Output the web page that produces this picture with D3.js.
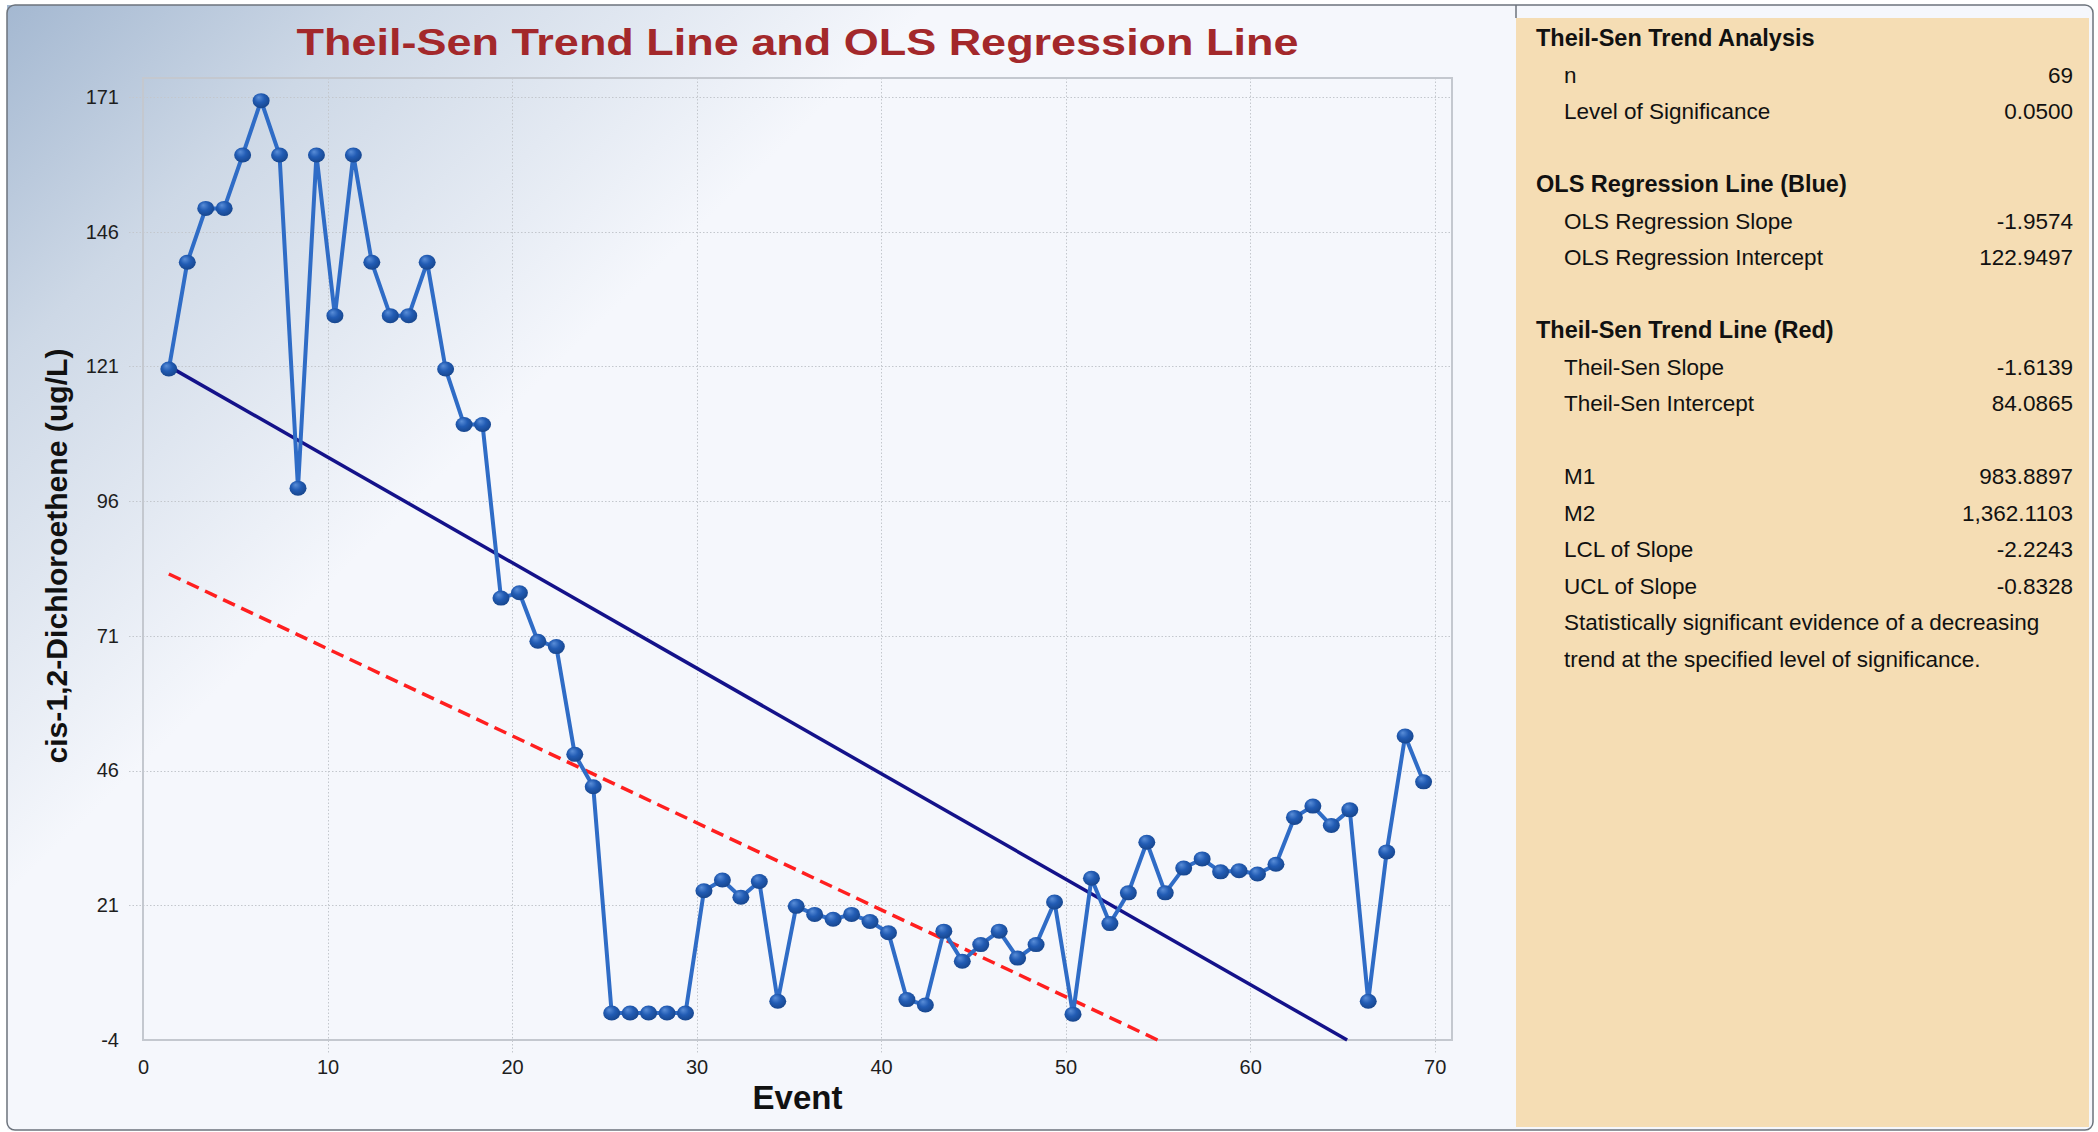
<!DOCTYPE html>
<html>
<head>
<meta charset="utf-8">
<script src="https://cdn.jsdelivr.net/npm/d3@7"></script>
<style>
	html, body { margin: 0; padding: 0; background: #ffffff; }
	svg { display: block; }
	text { font-family: "Liberation Sans", Arial, sans-serif; }
</style>
</head>
<body>
<div id="root"></div>
<script>
const W = 2098,
	H = 1132

// event number of each sample
const events = d3.range(1, 70)

// cis-1,2-Dichloroethene (ug/L) per event
const values = [
	120.5, 140.3, 150.3, 150.3, 160.2, 170.3, 160.2, 98.4, 160.2, 130.4,
	160.2, 140.3, 130.4, 130.4, 140.3, 120.5, 110.2, 110.2, 78, 79,
	70, 69, 49, 43, 1, 1, 1, 1, 1, 23.7,
	25.7, 22.5, 25.4, 3.2, 20.8, 19.3, 18.4, 19.3, 18, 15.9,
	3.5, 2.5, 16.2, 10.6, 13.7, 16.2, 11.2, 13.7, 21.6, 0.8,
	26, 17.6, 23.3, 32.7, 23.3, 27.9, 29.6, 27.2, 27.4, 26.8,
	28.6, 37.3, 39.4, 35.8, 38.7, 3.2, 30.9, 52.4, 43.9
]

const yTicks = [-4, 21, 46, 71, 96, 121, 146, 171]
const xTicks = [0, 10, 20, 30, 40, 50, 60, 70]

const olsLine = { slope: -1.9574, intercept: 122.9497 }
const theilLine = { slope: -1.6139, intercept: 84.0865 }

// right hand summary panel
const summaryRows = [
	{ type: 'head', label: 'Theil-Sen Trend Analysis' },
	{ label: 'n', value: '69' },
	{ label: 'Level of Significance', value: '0.0500' },
	{ type: 'gap' },
	{ type: 'head', label: 'OLS Regression Line (Blue)' },
	{ label: 'OLS Regression Slope', value: '-1.9574' },
	{ label: 'OLS Regression Intercept', value: '122.9497' },
	{ type: 'gap' },
	{ type: 'head', label: 'Theil-Sen Trend Line (Red)' },
	{ label: 'Theil-Sen Slope', value: '-1.6139' },
	{ label: 'Theil-Sen Intercept', value: '84.0865' },
	{ type: 'gap' },
	{ label: 'M1', value: '983.8897' },
	{ label: 'M2', value: '1,362.1103' },
	{ label: 'LCL of Slope', value: '-2.2243' },
	{ label: 'UCL of Slope', value: '-0.8328' },
	{ label: 'Statistically significant evidence of a decreasing' },
	{ label: 'trend at the specified level of significance.' }
]

const plot = { left: 143, right: 1452, top: 78, bottom: 1040 }
// markers sit a little right of the integer event position
const eventOffset = 0.4

const svg = d3.select('#root').append('svg')
	.attr('width', W)
	.attr('height', H)

const defs = svg.append('defs')

const bg = defs.append('linearGradient')
	.attr('id', 'bgGrad')
	.attr('gradientUnits', 'userSpaceOnUse')
	.attr('x1', 7).attr('y1', 5)
	.attr('x2', 600).attr('y2', 620)
bg.append('stop').attr('offset', 0).attr('stop-color', '#a4b8d1')
bg.append('stop').attr('offset', 0.3).attr('stop-color', '#cdd8e6')
bg.append('stop').attr('offset', 0.75).attr('stop-color', '#f5f7fc')

const dot = defs.append('radialGradient')
	.attr('id', 'dotGrad')
	.attr('cx', '45%').attr('cy', '40%')
	.attr('fx', '35%').attr('fy', '28%')
	.attr('r', '60%')
dot.append('stop').attr('offset', 0).attr('stop-color', '#5a8ed8')
dot.append('stop').attr('offset', 0.5).attr('stop-color', '#225cb4')
dot.append('stop').attr('offset', 1).attr('stop-color', '#17468e')

// window background + frame
svg.append('rect')
	.attr('x', 7).attr('y', 5)
	.attr('width', 2086).attr('height', 1125)
	.attr('rx', 8)
	.attr('fill', '#f5f7fc')

svg.append('rect')
	.attr('x', 7).attr('y', 5)
	.attr('width', 1509).attr('height', 1125)
	.attr('fill', 'url(#bgGrad)')

svg.append('rect')
	.attr('x', 1516).attr('y', 18)
	.attr('width', 573).attr('height', 1109)
	.attr('fill', '#f5ddb4')

svg.append('line')
	.attr('x1', 1516).attr('x2', 1516)
	.attr('y1', 5).attr('y2', 18)
	.attr('stroke', '#6c737c')
	.attr('stroke-width', 1.5)

svg.append('rect')
	.attr('x', 7).attr('y', 5)
	.attr('width', 2086).attr('height', 1125)
	.attr('rx', 8)
	.attr('fill', 'none')
	.attr('stroke', '#6c737c')
	.attr('stroke-width', 1.5)

// scales
const xScale = d3.scaleLinear()
	.domain([0, 70.94])
	.range([plot.left, plot.right])

const yScale = d3.scaleLinear()
	.domain([-4, 174.5])
	.range([plot.bottom, plot.top])

// title
svg.append('text')
	.attr('x', (plot.left + plot.right) / 2)
	.attr('y', 55)
	.attr('text-anchor', 'middle')
	.attr('font-size', 37)
	.attr('font-weight', 'bold')
	.attr('fill', '#a3282b')
	.attr('textLength', 1002)
	.attr('lengthAdjust', 'spacingAndGlyphs')
	.text('Theil-Sen Trend Line and OLS Regression Line')

// grid
const grid = svg.append('g')
	.attr('stroke', '#c3c7cd')
	.attr('stroke-width', 1)
	.attr('stroke-dasharray', '1.5,2')

grid.selectAll('.hgrid')
	.data(yTicks.filter(d => d > -4))
	.enter()
	.append('line')
	.attr('x1', plot.left - 14)
	.attr('x2', plot.right)
	.attr('y1', d => Math.round(yScale(d)) + 0.5)
	.attr('y2', d => Math.round(yScale(d)) + 0.5)

grid.selectAll('.vgrid')
	.data(xTicks.filter(d => d > 0))
	.enter()
	.append('line')
	.attr('x1', d => Math.round(xScale(d)) + 0.5)
	.attr('x2', d => Math.round(xScale(d)) + 0.5)
	.attr('y1', plot.top)
	.attr('y2', plot.bottom + 14)

// plot frame
svg.append('rect')
	.attr('x', plot.left).attr('y', plot.top)
	.attr('width', plot.right - plot.left)
	.attr('height', plot.bottom - plot.top)
	.attr('fill', 'none')
	.attr('stroke', '#c4c8cf')
	.attr('stroke-width', 2)

// axes (labels only)
const axisY = d3.axisLeft(yScale)
	.tickValues(yTicks)
	.tickFormat(d => String(d))
	.tickSize(0)
	.tickPadding(24)

const axisX = d3.axisBottom(xScale)
	.tickValues(xTicks)
	.tickFormat(d => String(d))
	.tickSize(0)
	.tickPadding(20)

svg.append('g')
	.attr('transform', `translate(${plot.left},0)`)
	.call(axisY)
svg.append('g')
	.attr('transform', `translate(0,${plot.bottom})`)
	.call(axisX)

svg.selectAll('.domain').remove()
svg.selectAll('.tick text')
	.attr('font-family', '"Liberation Sans", Arial, sans-serif')
	.attr('font-size', 20)
	.attr('fill', '#1e1e1e')

// axis titles
svg.append('text')
	.attr('transform', 'translate(67,556) rotate(-90)')
	.attr('text-anchor', 'middle')
	.attr('font-size', 29)
	.attr('font-weight', 'bold')
	.attr('fill', '#111')
	.attr('textLength', 415)
	.attr('lengthAdjust', 'spacingAndGlyphs')
	.text('cis-1,2-Dichloroethene (ug/L)')

svg.append('text')
	.attr('x', (plot.left + plot.right) / 2)
	.attr('y', 1109)
	.attr('text-anchor', 'middle')
	.attr('font-size', 33)
	.attr('font-weight', 'bold')
	.attr('fill', '#111')
	.text('Event')

// trend lines: from the first event down to the bottom of the value axis
function trendPoints (line) {
	const yMin = yScale.domain()[0],
		xStart = events[0],
		xEnd = Math.min((yMin - line.intercept) / line.slope, xScale.domain()[1] - eventOffset)
	return [xStart, xEnd].map(x => [x, line.intercept + line.slope * x])
}

const lineGen = d3.line()
	.x(d => xScale(d[0] + eventOffset))
	.y(d => yScale(d[1]))

svg.append('path')
	.attr('d', lineGen(trendPoints(theilLine)))
	.attr('fill', 'none')
	.attr('stroke', '#ff1f1f')
	.attr('stroke-width', 3.5)
	.attr('stroke-dasharray', '13,7')

svg.append('path')
	.attr('d', lineGen(trendPoints(olsLine)))
	.attr('fill', 'none')
	.attr('stroke', '#14128a')
	.attr('stroke-width', 3.5)

// data series
const series = events.map((e, i) => [e, values[i]])

svg.append('path')
	.attr('d', lineGen(series))
	.attr('fill', 'none')
	.attr('stroke', '#2f6cc6')
	.attr('stroke-width', 4)
	.attr('stroke-linejoin', 'round')

svg.selectAll('.dot')
	.data(series)
	.enter()
	.append('ellipse')
	.attr('class', 'dot')
	.attr('cx', d => xScale(d[0] + eventOffset))
	.attr('cy', d => yScale(d[1]))
	.attr('rx', 8.5)
	.attr('ry', 7.5)
	.attr('fill', 'url(#dotGrad)')

// summary panel
const rowH = 36.5
let rowY = 46
const panel = svg.append('g')

summaryRows.forEach(row => {
	if (row.type === 'gap') {
		rowY += rowH
		return
	}
	if (row.type === 'head') {
		panel.append('text')
			.attr('x', 1536)
			.attr('y', rowY)
			.attr('font-size', 23.5)
			.attr('font-weight', 'bold')
			.attr('fill', '#111')
			.text(row.label)
	} else {
		panel.append('text')
			.attr('x', 1564)
			.attr('y', rowY)
			.attr('font-size', 22.5)
			.attr('fill', '#111')
			.text(row.label)
		if (row.value)
			panel.append('text')
				.attr('x', 2073)
				.attr('y', rowY)
				.attr('text-anchor', 'end')
				.attr('font-size', 22.5)
				.attr('fill', '#111')
				.text(row.value)
	}
	rowY += rowH
})
</script>
</body>
</html>
